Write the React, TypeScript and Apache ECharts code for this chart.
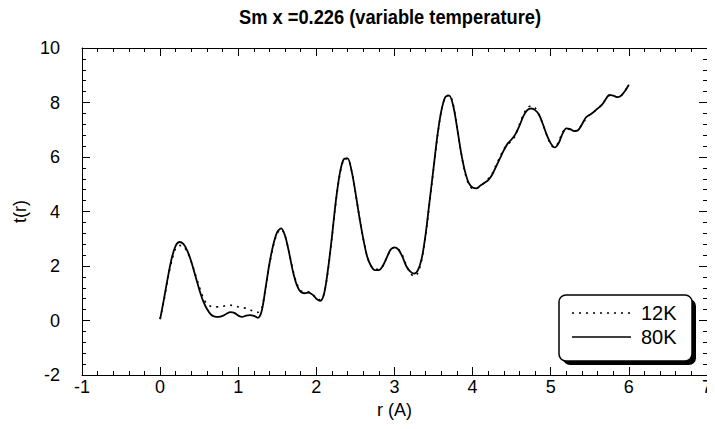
import React, { useEffect, useRef } from "react";
import * as echarts from "echarts";

const TITLE = "Sm x =0.226 (variable temperature)";
const X_NAME = "r (A)";
const Y_NAME = "t(r)";
const SERIES_NAMES = ["12K", "80K"];

const rValues = [
  0.0, 0.05, 0.1, 0.15, 0.2, 0.25, 0.3, 0.35, 0.4, 0.45, 0.5, 0.55, 0.6, 0.65, 0.7, 0.75, 0.8, 0.85, 0.9, 0.95,
  1.0, 1.05, 1.1, 1.15, 1.2, 1.25, 1.3, 1.35, 1.4, 1.45, 1.5, 1.55, 1.6, 1.65, 1.7, 1.75, 1.8, 1.85, 1.9, 1.95,
  2.0, 2.05, 2.1, 2.15, 2.2, 2.25, 2.3, 2.35, 2.4, 2.45, 2.5, 2.55, 2.6, 2.65, 2.7, 2.75, 2.8, 2.85, 2.9, 2.95,
  3.0, 3.05, 3.1, 3.15, 3.2, 3.25, 3.3, 3.35, 3.4, 3.45, 3.5, 3.55, 3.6, 3.65, 3.7, 3.75, 3.8, 3.85, 3.9, 3.95,
  4.0, 4.05, 4.1, 4.15, 4.2, 4.25, 4.3, 4.35, 4.4, 4.45, 4.5, 4.55, 4.6, 4.65, 4.7, 4.75, 4.8, 4.85, 4.9, 4.95,
  5.0, 5.05, 5.1, 5.15, 5.2, 5.25, 5.3, 5.35, 5.4, 5.45, 5.5, 5.55, 5.6, 5.65, 5.7, 5.75, 5.8, 5.85, 5.9, 5.95,
  6.0,
];

const t80K = [
  0.05, 0.8, 1.6, 2.3, 2.75, 2.88, 2.8, 2.55, 2.15, 1.65, 1.15, 0.72, 0.42, 0.22, 0.14, 0.13, 0.17, 0.25, 0.31, 0.28,
  0.18, 0.13, 0.18, 0.2, 0.17, 0.1, 0.35, 1.2, 2.1, 2.8, 3.25, 3.38, 3.1, 2.5, 1.8, 1.3, 1.05, 1.0, 1.02, 0.95,
  0.8, 0.72, 1.0, 1.9, 3.1, 4.4, 5.4, 5.92, 5.95, 5.5, 4.7, 3.8, 3.0, 2.35, 2.0, 1.85, 1.85, 2.0, 2.3, 2.6,
  2.68, 2.6, 2.35, 2.0, 1.8, 1.72, 1.85, 2.3, 3.2, 4.4, 5.6, 6.8, 7.7, 8.2, 8.25, 7.9, 7.1, 6.2, 5.5, 5.05,
  4.88, 4.85, 4.95, 5.05, 5.15, 5.35, 5.65, 5.95, 6.25, 6.5, 6.65, 6.85, 7.15, 7.5, 7.72, 7.78, 7.72, 7.55, 7.2, 6.8,
  6.5, 6.35, 6.5, 6.85, 7.05, 7.02, 6.95, 6.98, 7.2, 7.45, 7.55, 7.65, 7.78, 7.9, 8.1, 8.28, 8.25, 8.2, 8.25, 8.42,
  8.65,
];

const t12K = [
  0.05, 0.75, 1.55, 2.2, 2.65, 2.75, 2.72, 2.5, 2.15, 1.7, 1.25, 0.85, 0.6, 0.52, 0.5, 0.5, 0.52, 0.55, 0.56, 0.54,
  0.5, 0.47, 0.45, 0.4, 0.32, 0.3, 0.45, 1.2, 2.05, 2.75, 3.2, 3.35, 3.1, 2.5, 1.85, 1.35, 1.1, 1.05, 1.05, 0.97,
  0.82, 0.75, 1.0, 1.85, 3.05, 4.35, 5.35, 5.9, 5.95, 5.5, 4.7, 3.8, 3.0, 2.35, 2.0, 1.88, 1.88, 2.0, 2.3, 2.58,
  2.68, 2.62, 2.4, 2.05, 1.75, 1.62, 1.75, 2.25, 3.15, 4.35, 5.55, 6.75, 7.7, 8.2, 8.28, 7.95, 7.1, 6.2, 5.45, 5.0,
  4.85, 4.85, 4.95, 5.05, 5.2, 5.4, 5.7, 6.0, 6.3, 6.45, 6.6, 6.8, 7.2, 7.55, 7.8, 7.88, 7.8, 7.55, 7.2, 6.8,
  6.45, 6.35, 6.55, 6.9, 7.05, 7.0, 6.95, 7.0, 7.2, 7.4, 7.55, 7.65, 7.78, 7.9, 8.1, 8.25, 8.25, 8.2, 8.25, 8.42,
  8.65,
];

const FONT = "'Liberation Sans', Arial, sans-serif";

export default function App() {
  const ref = useRef<HTMLDivElement>(null);

  useEffect(() => {
    if (!ref.current) return;
    const chart = echarts.init(ref.current, undefined, { renderer: "svg" });

    const tickCommon = {
      axisLine: { show: true, onZero: false, lineStyle: { color: "#000", width: 1 } },
      axisTick: { show: true, inside: true, length: 8, lineStyle: { color: "#000", width: 1 } },
      minorTick: { show: true, splitNumber: 5, length: 4, lineStyle: { color: "#000", width: 1 } },
      splitLine: { show: false },
    };

    chart.setOption({
      animation: false,
      backgroundColor: "#fff",
      grid: { left: 82, right: 7, top: 48, bottom: 54, containLabel: false },
      xAxis: [
        {
          type: "value",
          min: -1,
          max: 7,
          interval: 1,
          position: "bottom",
          ...tickCommon,
          axisLabel: { show: true, color: "#000", fontFamily: FONT, fontSize: 18, margin: 3 },
          name: X_NAME,
          nameLocation: "middle",
          nameGap: 25,
          nameTextStyle: { color: "#000", fontFamily: FONT, fontSize: 18 },
        },
        {
          type: "value",
          min: -1,
          max: 7,
          interval: 1,
          position: "top",
          ...tickCommon,
          axisLabel: { show: false },
        },
      ],
      yAxis: [
        {
          type: "value",
          min: -2,
          max: 10,
          interval: 2,
          position: "left",
          ...tickCommon,
          axisLabel: { show: true, color: "#000", fontFamily: FONT, fontSize: 18, margin: 22 },
          name: Y_NAME,
          nameLocation: "middle",
          nameGap: 52,
          nameTextStyle: { color: "#000", fontFamily: FONT, fontSize: 18 },
        },
        {
          type: "value",
          min: -2,
          max: 10,
          interval: 2,
          position: "right",
          ...tickCommon,
          axisLabel: { show: false },
        },
      ],
      graphic: [
        {
          type: "text",
          x: 390,
          y: 17,
          scaleX: 0.87,
          z: 10,
          style: {
            text: TITLE,
            fontFamily: FONT,
            fontSize: 21,
            fontWeight: "bold",
            fill: "#000",
            textAlign: "center",
            textVerticalAlign: "middle",
          },
        },
        {
          type: "rect",
          z: 5,
          shape: { x: 563, y: 299, width: 133, height: 66, r: 7 },
          style: { fill: "#000" },
        },
        {
          type: "rect",
          z: 6,
          shape: { x: 559, y: 295, width: 133, height: 66, r: 7 },
          style: { fill: "#fff", stroke: "#000", lineWidth: 1.5 },
        },
        {
          type: "line",
          z: 7,
          shape: { x1: 572, y1: 313, x2: 631, y2: 313 },
          style: { stroke: "#000", lineWidth: 1.6, lineDash: [2, 5] },
        },
        {
          type: "line",
          z: 7,
          shape: { x1: 572, y1: 337, x2: 631, y2: 337 },
          style: { stroke: "#000", lineWidth: 1.6 },
        },
        {
          type: "text",
          z: 7,
          x: 641,
          y: 313,
          style: {
            text: SERIES_NAMES[0],
            fontFamily: FONT,
            fontSize: 20,
            fill: "#000",
            textVerticalAlign: "middle",
          },
        },
        {
          type: "text",
          z: 7,
          x: 641,
          y: 337,
          style: {
            text: SERIES_NAMES[1],
            fontFamily: FONT,
            fontSize: 20,
            fill: "#000",
            textVerticalAlign: "middle",
          },
        },
      ],
      series: [
        {
          name: SERIES_NAMES[0],
          type: "line",
          xAxisIndex: 0,
          yAxisIndex: 0,
          data: rValues.map((r, i) => [r, t12K[i]]),
          smooth: 0.3,
          symbol: "none",
          lineStyle: { color: "#000", width: 1.6, type: [2, 5] },
          itemStyle: { color: "#000" },
          z: 3,
        },
        {
          name: SERIES_NAMES[1],
          type: "line",
          xAxisIndex: 0,
          yAxisIndex: 0,
          data: rValues.map((r, i) => [r, t80K[i]]),
          smooth: 0.3,
          symbol: "none",
          lineStyle: { color: "#000", width: 1.8, type: "solid" },
          itemStyle: { color: "#000" },
          z: 4,
        },
      ],
    });

    return () => chart.dispose();
  }, []);

  return <div ref={ref} style={{ width: 715, height: 429, margin: -8 }} />;
}
